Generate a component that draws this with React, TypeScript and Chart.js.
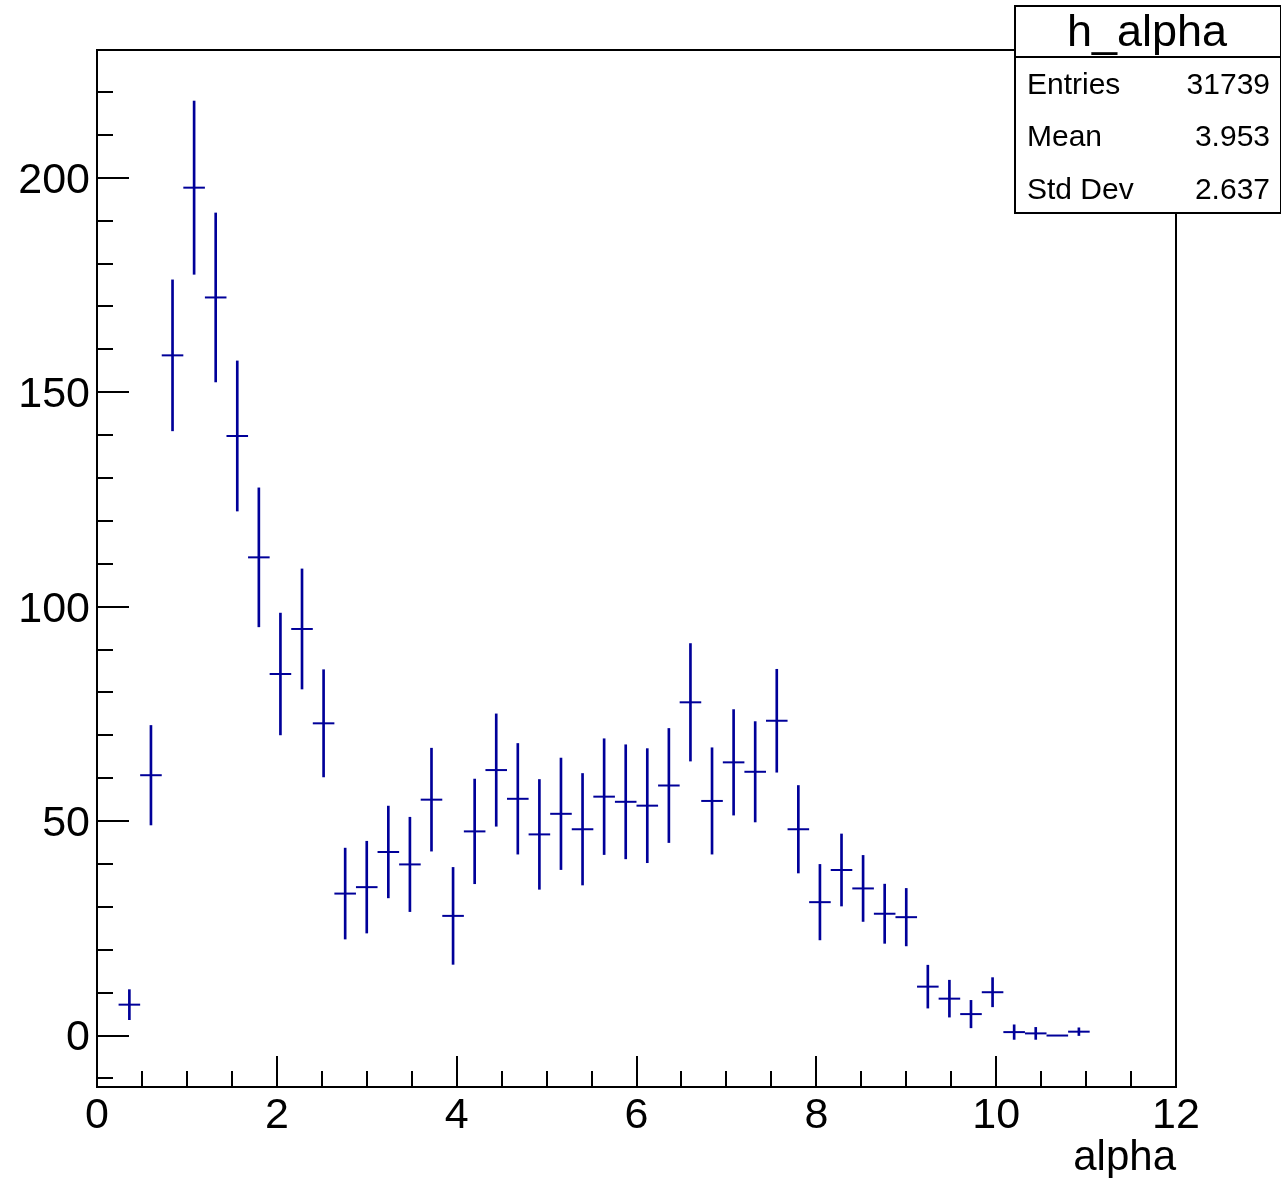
import React, { useEffect, useRef } from "react";
import { Chart, registerables } from "chart.js";

Chart.register(...registerables);

// ---- data ----
const binWidth = 0.24;
const binCenters = [
  0.36, 0.6, 0.84, 1.08, 1.32, 1.56, 1.8, 2.04, 2.28, 2.52,
  2.76, 3.0, 3.24, 3.48, 3.72, 3.96, 4.2, 4.44, 4.68, 4.92,
  5.16, 5.4, 5.64, 5.88, 6.12, 6.36, 6.6, 6.84, 7.08, 7.32,
  7.56, 7.8, 8.04, 8.28, 8.52, 8.76, 9.0, 9.24, 9.48, 9.72,
  9.96, 10.2, 10.44, 10.68, 10.92,
];
const counts = [
  7.2, 60.7, 158.6, 197.7, 172.1, 139.8, 111.5, 84.3, 94.8, 72.8,
  33.1, 34.6, 42.8, 39.9, 55.0, 27.9, 47.6, 61.9, 55.2, 46.9,
  51.7, 48.1, 55.7, 54.5, 53.6, 58.3, 77.7, 54.7, 63.7, 61.5,
  73.4, 48.1, 31.1, 38.6, 34.3, 28.4, 27.6, 11.4, 8.6, 5.0,
  10.1, 0.8, 0.5, 0.0, 0.9,
];
const errors = [
  3.5, 11.6, 17.6, 20.2, 19.7, 17.5, 16.2, 14.2, 14.0, 12.5,
  10.6, 10.7, 10.7, 11.0, 12.0, 11.3, 12.2, 13.1, 12.9, 12.8,
  13.0, 13.0, 13.5, 13.3, 13.3, 13.3, 13.7, 12.4, 12.3, 11.7,
  12.0, 10.2, 8.8, 8.4, 7.7, 6.9, 6.7, 5.0, 4.3, 3.2,
  3.4, 1.7, 1.4, 0.0, 0.9,
];
const xMajorTicks = [0, 2, 4, 6, 8, 10, 12];
const yMajorTicks = [0, 50, 100, 150, 200];
const statsTitle = "h_alpha";
const statsLabels = ["Entries", "Mean", "Std Dev"];
const statsValues = ["31739", "3.953", "2.637"];
const xTitle = "alpha";

const X_MIN = 0;
const X_MAX = 12;
const Y_MIN = -12;
const Y_MAX = 229.8;
const X_MINOR = 0.5;
const Y_MINOR = 10;

const FONT = "'Liberation Sans', Arial, Helvetica, sans-serif";
const MARK = "#000099";

const rootPlugin = {
  id: "rootFrame",
  afterDatasetsDraw(chart: any) {
    const { ctx, chartArea } = chart;
    const xs = chart.scales.x;
    const ys = chart.scales.y;
    ctx.save();
    ctx.strokeStyle = "#000";
    ctx.lineWidth = 2;
    ctx.strokeRect(chartArea.left, chartArea.top, chartArea.right - chartArea.left, chartArea.bottom - chartArea.top);
    ctx.beginPath();
    for (let v = X_MIN; v <= X_MAX + 1e-9; v += X_MINOR) {
      const px = Math.round(xs.getPixelForValue(v));
      const major = Math.abs(v / 2 - Math.round(v / 2)) < 1e-6;
      const len = major ? 31 : 16;
      ctx.moveTo(px, chartArea.bottom);
      ctx.lineTo(px, chartArea.bottom - len);
    }
    for (let v = -10; v <= Y_MAX; v += Y_MINOR) {
      const py = Math.round(ys.getPixelForValue(v));
      const major = Math.abs(v / 50 - Math.round(v / 50)) < 1e-6;
      const len = major ? 32 : 16;
      ctx.moveTo(chartArea.left, py);
      ctx.lineTo(chartArea.left + len, py);
    }
    ctx.stroke();
    ctx.restore();
  },
  afterDraw(chart: any) {
    const { ctx } = chart;
    const L = 1015, T = 6, R = 1281, B = 213, S = 57;
    ctx.save();
    ctx.fillStyle = "#fff";
    ctx.fillRect(L, T, R - L, B - T);
    ctx.strokeStyle = "#000";
    ctx.lineWidth = 2;
    ctx.strokeRect(L, T, R - L, B - T);
    ctx.beginPath();
    ctx.moveTo(L, S);
    ctx.lineTo(R, S);
    ctx.stroke();
    ctx.fillStyle = "#000";
    ctx.textBaseline = "alphabetic";
    ctx.font = `45px ${FONT}`;
    ctx.textAlign = "center";
    ctx.fillText(statsTitle, (L + R) / 2 - 1, 46);
    ctx.font = `30px ${FONT}`;
    const baselines = [94, 146, 199];
    statsLabels.forEach((lab, i) => {
      ctx.textAlign = "left";
      ctx.fillText(lab, 1027, baselines[i]);
      ctx.textAlign = "right";
      ctx.fillText(statsValues[i], 1270, baselines[i]);
    });
    ctx.restore();
  },
};

export default function App() {
  const ref = useRef<HTMLCanvasElement | null>(null);
  useEffect(() => {
    if (!ref.current) return;
    const halfBinPx = (c: any) => {
      const s = c.chart.scales.x;
      return Math.abs(s.getPixelForValue(binWidth / 2) - s.getPixelForValue(0));
    };
    const chart = new Chart(ref.current, {
      type: "bar",
      data: {
        datasets: [
          {
            type: "bar",
            data: binCenters.map((x, i) => ({ x, y: [counts[i] - errors[i], counts[i] + errors[i]] })) as any,
            backgroundColor: MARK,
            borderWidth: 0,
            barThickness: 2,
          } as any,
          {
            type: "line",
            data: binCenters.map((x, i) => ({ x, y: counts[i] })) as any,
            showLine: false,
            pointStyle: "line",
            pointRadius: halfBinPx,
            pointBorderColor: MARK,
            pointBackgroundColor: MARK,
            pointBorderWidth: 2,
          } as any,
        ],
      },
      options: {
        animation: false,
        responsive: false,
        events: [],
        layout: { padding: { left: 0, right: 105, top: 50, bottom: 0 } },
        plugins: { legend: { display: false }, tooltip: { enabled: false }, title: { display: false } },
        scales: {
          x: {
            type: "linear",
            min: X_MIN,
            max: X_MAX,
            offset: false,
            grid: { display: false, offset: false, drawTicks: false },
            border: { display: false },
            afterBuildTicks: (s: any) => {
              s.ticks = xMajorTicks.map((v) => ({ value: v }));
            },
            afterFit: (s: any) => {
              s.height = 91;
            },
            ticks: {
              autoSkip: false,
              maxRotation: 0,
              padding: 3,
              color: "#000",
              font: { family: FONT, size: 43 },
              callback: (v: any) => String(v),
            },
            title: {
              display: true,
              text: xTitle,
              align: "end",
              color: "#000",
              font: { family: FONT, size: 42 },
              padding: { top: 0, bottom: -6 },
            },
          } as any,
          y: {
            type: "linear",
            min: Y_MIN,
            max: Y_MAX,
            grid: { display: false, drawTicks: false },
            border: { display: false },
            afterBuildTicks: (s: any) => {
              s.ticks = yMajorTicks.map((v) => ({ value: v }));
            },
            afterFit: (s: any) => {
              s.width = 97;
            },
            ticks: {
              padding: 7,
              labelOffset: 3,
              color: "#000",
              font: { family: FONT, size: 43 },
              callback: (v: any) => String(v),
            },
          } as any,
        },
      },
      plugins: [rootPlugin],
    });
    return () => chart.destroy();
  }, []);
  return (
    <div style={{ position: "absolute", left: 0, top: 0, width: 1281, height: 1178, background: "#fff" }}>
      <canvas ref={ref} width={1281} height={1178} style={{ display: "block" }} />
    </div>
  );
}
